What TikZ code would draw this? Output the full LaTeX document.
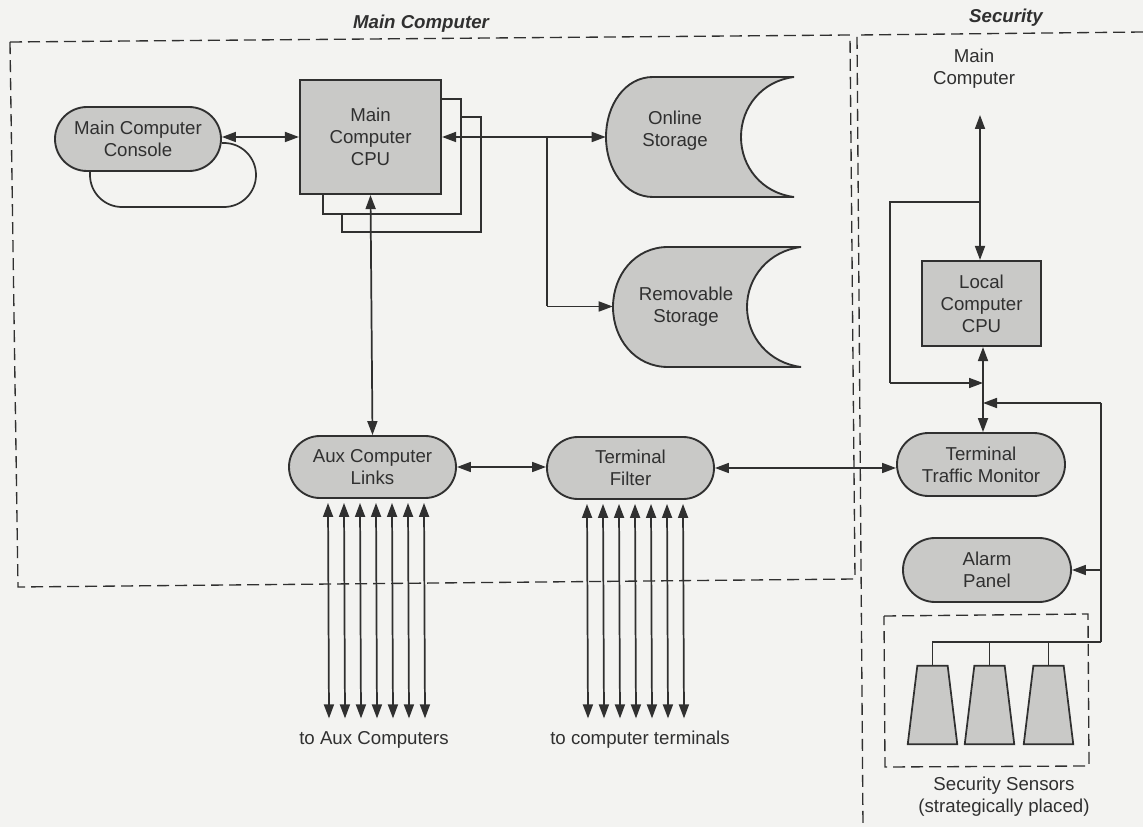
\documentclass[tikz,border=0pt]{standalone}
\usepackage{fontspec}
\setmainfont{Liberation Sans}
\usetikzlibrary{arrows.meta,shapes.misc}
\definecolor{ink}{HTML}{303030}
\definecolor{paper}{HTML}{F3F3F1}
\definecolor{shade}{HTML}{C9C9C7}
\tikzset{
  txt/.style={text=ink,font=\fontsize{14}{16.5}\selectfont,align=center,inner sep=0pt},
  titletxt/.style={text=ink,font=\fontsize{14}{16.5}\selectfont\bfseries\itshape,inner sep=0pt},
  stadium/.style={txt,rounded rectangle,draw=ink,line width=1.4pt,fill=shade},
  cpubox/.style={txt,rectangle,draw=ink,line width=1.6pt,fill=shade},
  backbox/.style={rectangle,draw=ink,line width=1.3pt,fill=paper,inner sep=0pt},
  sensor/.style={rectangle,inner sep=0pt,minimum width=49*0.75pt,minimum height=78*0.75pt,
    append after command={
      \pgfextra{\draw[line width=1.3pt,draw=ink,fill=shade]
        ([xshift=7.2pt]\tikzlastnode.north west) -- ([xshift=-7.2pt]\tikzlastnode.north east)
        -- (\tikzlastnode.south east) -- (\tikzlastnode.south west) -- cycle;}}},
  storagebody/.style={draw=ink,line width=1.4pt,fill=shade},
  frame/.style={draw=ink,line width=1pt,dash pattern=on 9pt off 4.5pt},
  wire/.style={draw=ink,line width=1.3pt},
  arr/.style={wire,-{Triangle[length=10.5pt,width=7.5pt]}},
  dbl/.style={wire,{Triangle[length=10.5pt,width=7.5pt]}-{Triangle[length=10.5pt,width=7.5pt]}},
}
\begin{document}
\begin{tikzpicture}[x=0.75pt,y=-0.75pt]
\useasboundingbox (0,0) rectangle (1143,827);
\fill[paper] (0,0) rectangle (1143,827);
% frames
\draw[frame] (10,42) -- (850,35) -- (855,579) -- (18,587) -- cycle;
\draw[frame] (1143,32) -- (857,35) -- (863,827);
\draw[frame] (884,616) -- (1088,614) -- (1089,766) -- (885,767) -- cycle;
% titles
\node[titletxt] (titlemain) at (421,24) {Main Computer};
\node[titletxt] (titlesec) at (1006,18) {Security};
% stacked CPUs
\node[backbox,minimum width=139*0.75pt,minimum height=115*0.75pt] (cpu3) at (411.5,174.5) {};
\node[backbox,minimum width=138*0.75pt,minimum height=115*0.75pt] (cpu2) at (392,156.5) {};
\node[cpubox,minimum width=141*0.75pt,minimum height=114*0.75pt] (cpu) at (370.5,137) {Main\\Computer\\CPU};
% main side nodes
\node[stadium,minimum width=166*0.75pt,minimum height=64*0.75pt] (console) at (138,139) {Main Computer\\Console};
\draw[storagebody] (794,77) -- (653,77) .. controls (625,77) and (606,105) .. (606,137)
  .. controls (606,169) and (625,197) .. (653,197) -- (794,197)
  .. controls (762,193) and (741,167) .. (741,137) .. controls (741,107) and (762,81) .. (794,77);
\node[txt,minimum width=138*0.75pt,minimum height=120*0.75pt] (online) at (675,130.5) {Online\\Storage};
\draw[storagebody] (801,247) -- (668,247) .. controls (635,247) and (613,275) .. (613,307)
  .. controls (613,339) and (635,367) .. (668,367) -- (801,367)
  .. controls (769,363) and (747,337) .. (747,307) .. controls (747,277) and (769,251) .. (801,247);
\node[txt,minimum width=146*0.75pt,minimum height=120*0.75pt] (removable) at (686,306.5) {Removable\\Storage};
\node[stadium,minimum width=167*0.75pt,minimum height=62*0.75pt] (aux) at (372.5,467) {Aux Computer\\Links};
\node[stadium,minimum width=167*0.75pt,minimum height=62*0.75pt] (filter) at (630.5,468) {Terminal\\Filter};
% security side nodes
\node[txt] (secmain) at (974,69) {Main\\Computer};
\node[cpubox,minimum width=119*0.75pt,minimum height=85*0.75pt] (local) at (981.5,303.5) {Local\\Computer\\CPU};
\node[stadium,minimum width=168*0.75pt,minimum height=63*0.75pt] (monitor) at (981,464.5) {Terminal\\Traffic Monitor};
\node[stadium,minimum width=168*0.75pt,minimum height=64*0.75pt] (alarm) at (987,570) {Alarm\\Panel};
\node[sensor] (s1) at (932.5,705) {};
\node[sensor] (s2) at (989.5,705) {};
\node[sensor] (s3) at (1048.5,705) {};
% labels
\node[txt,text height=10.5pt,text depth=3pt] (auxlabel) at (374,739) {to Aux Computers};
\node[txt,text height=10.5pt,text depth=3pt] (termlabel) at (640,739) {to computer terminals};
\node[txt] (senslabel) at (1004,797) {Security Sensors\\(strategically placed)};
% free ends and junctions
\coordinate (secup) at (980,115);
\coordinate (jloop) at (980,202);
\coordinate (loopl) at (890,202);
\coordinate (loopb) at (890,383);
\coordinate (jcpu) at (983,383);
\coordinate (jbus) at (983,403);
\coordinate (busturn) at (1101,403);
\coordinate (busbot) at (1101,642);
\coordinate (jstore) at (547,137);
\coordinate (loopx) at (90,207);
\coordinate (loopr) at (256,143);
% main connectors
\draw[dbl] (console.east |- cpu.west) -- (cpu.west);
\draw[wire,rounded corners=24pt] ([yshift=-3pt]console.east) -- (loopr) -- (loopr |- loopx) -- (loopx) -- (console.south -| loopx);
\draw[dbl] (cpu.east) -- (online.west |- cpu.east);
\draw[wire] (jstore |- cpu.east) -- (jstore |- removable.west);
\draw[arr] (jstore |- removable.west) -- (removable.west);
\draw[dbl] (cpu.south) -- (aux.north);
\draw[dbl] (aux.east) -- (aux.east -| filter.west);
\draw[dbl] (filter.east) -- (filter.east -| monitor.west);
% security connectors
\draw[dbl] (local.north -| secup) -- (secup);
\draw[wire] (jloop) -- (loopl) -- (loopb);
\draw[arr] (loopb) -- (jcpu);
\draw[arr] (jcpu) -- (jcpu |- local.south);
\draw[arr] (jcpu) -- (jcpu |- monitor.north);
\draw[arr] (busturn) -- (jbus);
\draw[wire] (busturn) -- (busbot);
\draw[arr] (busturn |- alarm.east) -- (alarm.east);
\draw[wire] (busbot) -| (s1.north);
\draw[wire] (s2.north) -- (s2.north |- busbot);
\draw[wire] (s3.north) -- (s3.north |- busbot);
% bundles
\foreach \i in {0,...,6} {
  \draw[dbl] ([xshift={(-44.5+16*\i)*0.75pt},yshift=-3pt]aux.south) -- ([xshift={(-45+16*\i)*0.75pt},yshift=8.5pt]auxlabel.north);
  \draw[dbl] ([xshift={(-43.5+16*\i)*0.75pt},yshift=-3pt]filter.south) -- ([xshift={(-52+16*\i)*0.75pt},yshift=8.5pt]termlabel.north);
}
\end{tikzpicture}
\end{document}
